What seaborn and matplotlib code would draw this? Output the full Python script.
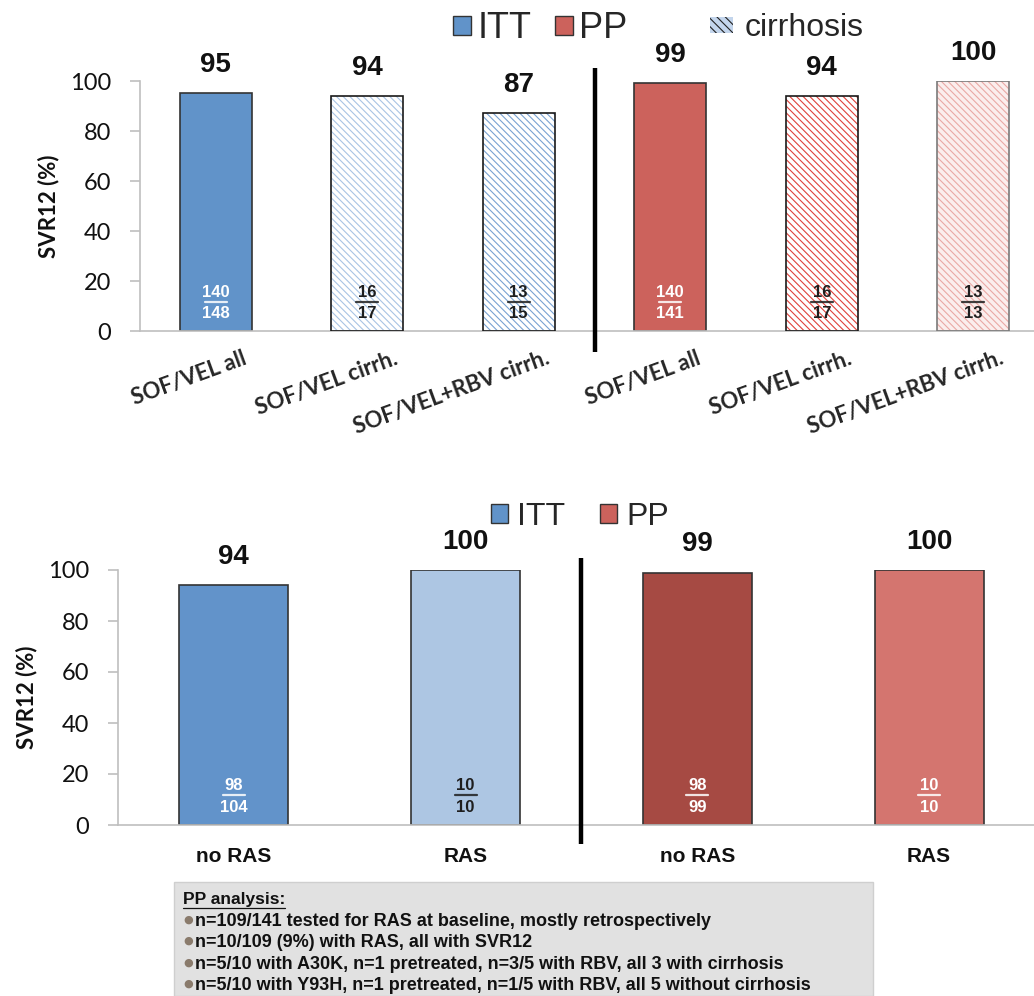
import numpy as np
import pandas as pd
import matplotlib
matplotlib.use("Agg")
import matplotlib.pyplot as plt
import matplotlib.transforms as mtransforms
from matplotlib.patches import Patch, Rectangle
from matplotlib.lines import Line2D
import seaborn as sns

# ---- data: upper panel (SVR12 by regimen) ----
top_keys = ["ITT all", "ITT cirrh", "ITT RBV cirrh", "PP all", "PP cirrh", "PP RBV cirrh"]
top_labels = ["SOF/VEL all", "SOF/VEL cirrh.", "SOF/VEL+RBV cirrh.",
              "SOF/VEL all", "SOF/VEL cirrh.", "SOF/VEL+RBV cirrh."]
top_svr = [95, 94, 87, 99, 94, 100]
top_num = [140, 16, 13, 140, 16, 13]
top_den = [148, 17, 15, 141, 17, 13]

# ---- data: lower panel (SVR12 by baseline RAS) ----
bottom_keys = ["ITT no RAS", "ITT RAS", "PP no RAS", "PP RAS"]
bottom_labels = ["no RAS", "RAS", "no RAS", "RAS"]
bottom_svr = [94, 100, 99, 100]
bottom_num = [98, 10, 98, 10]
bottom_den = [104, 10, 99, 10]

notes_title = "PP analysis:"
notes = [
    "n=109/141 tested for RAS at baseline, mostly retrospectively",
    "n=10/109 (9%) with RAS, all with SVR12",
    "n=5/10 with A30K, n=1 pretreated, n=3/5 with RBV, all 3 with cirrhosis",
    "n=5/10 with Y93H, n=1 pretreated, n=1/5 with RBV, all 5 without cirrhosis",
]

# ---- styles ----
ITT_BLUE = "#6193c9"
PP_RED = "#cc625c"
top_colors = [ITT_BLUE, "#ffffff", "#ffffff", PP_RED, "#ffffff", "#fbeeed"]
top_hatch = [None, "#a9c4e4", "#7aa2d2", None, "#e0413b", "#eaa9a5"]
top_edges = ["#333333", "#1a1a1a", "#1a1a1a", "#333333", "#1a1a1a", "#7a7a7a"]
top_frac = ["white", "#1e1e1e", "#1e1e1e", "white", "#1e1e1e", "#1e1e1e"]

bottom_colors = ["#6293ca", "#adc6e3", "#a64a43", "#d4756f"]
bottom_hatch = [None] * 4
bottom_edges = ["#333333"] * 4
bottom_frac = ["white", "#1e1e1e", "white", "white"]

W, H = 1034, 996
CAL = ["Lato", "DejaVu Sans"]
ARIAL = ["Liberation Sans", "DejaVu Sans"]

sns.set_style("white")
plt.rcParams["font.family"] = ARIAL
plt.rcParams["hatch.linewidth"] = 0.8


def fig_rect(left, right, top, bottom):
    return [left / W, 1 - bottom / H, (right - left) / W, (bottom - top) / H]


def draw_panel(ax, keys, labels, svr, num, den, colors, hatches, edges, frac_colors,
               width, left_px, label_x_px, divider_y):
    n = len(keys)
    df = pd.DataFrame({"group": keys, "svr": svr})
    sns.barplot(data=df, x="group", y="svr", hue="group", palette=colors,
                width=width, saturation=1, legend=False, ax=ax,
                edgecolor="#333333", linewidth=1.2, zorder=2)
    bars = list(ax.patches)[:n]

    ax.set_xlim(-0.5, n - 0.5)
    ax.set_ylim(0, 100)
    ax_w_px = ax.get_position().width * W
    half_line = 11 / (ax_w_px / n)

    for i, p in enumerate(bars):
        cx = p.get_x() + p.get_width() / 2
        if hatches[i] is not None:
            p.set_hatch("\\\\\\\\\\")
            p.set_edgecolor(hatches[i])
            p.set_linewidth(0)
            ax.add_patch(Rectangle((p.get_x(), p.get_y()), p.get_width(), p.get_height(),
                                   fill=False, edgecolor=edges[i], linewidth=1.2, zorder=3))
        else:
            p.set_edgecolor(edges[i])
        ax.annotate(f"{svr[i]}", (cx, p.get_height()), xytext=(0, 11),
                    textcoords="offset points", ha="center", va="bottom",
                    fontsize=20, fontweight="bold", color="#111111")
        # fraction inside the bar
        ax.text(cx, 15.5, f"{num[i]}", ha="center", va="center", fontsize=12,
                fontweight="bold", color=frac_colors[i], zorder=4)
        ax.text(cx, 7.0, f"{den[i]}", ha="center", va="center", fontsize=12,
                fontweight="bold", color=frac_colors[i], zorder=4)
        ax.plot([cx - half_line, cx + half_line], [11.6, 11.6], color=frac_colors[i],
                lw=1.6, zorder=4, alpha=0.85)

    # separator between ITT and PP groups
    ax.plot([n / 2 - 0.5] * 2, divider_y, color="black", lw=3.2, clip_on=False,
            solid_capstyle="butt", zorder=5)

    ax.set_yticks(range(0, 101, 20))
    ax.set_xticks(range(n))
    ax.set_xticklabels(labels)
    ax.set_xticks(np.arange(-0.5, n), minor=True)
    ax.tick_params(axis="x", which="major", length=0)
    ax.tick_params(axis="x", which="minor", length=6, color="#bfbfbf", width=1.2)
    ax.tick_params(axis="y", length=7, color="#bfbfbf", width=1.2, pad=14,
                   labelsize=17, labelcolor="#111111", left=True)
    for t in ax.get_yticklabels():
        t.set_family(CAL)
    for s in ["top", "right"]:
        ax.spines[s].set_visible(False)
    for s in ["left", "bottom"]:
        ax.spines[s].set_color("#bfbfbf")
        ax.spines[s].set_linewidth(1.2)
    ax.set_xlabel("")
    ax.set_ylabel("SVR12 (%)", fontsize=16, fontweight="bold", family=CAL, color="#111111")
    ax.yaxis.set_label_coords((label_x_px - left_px) / ax_w_px, 0.5)


fig = plt.figure(figsize=(W / 100, H / 100), dpi=100)
ax_top = fig.add_axes(fig_rect(140, 1049, 81, 331))
ax_bot = fig.add_axes(fig_rect(118, 1045, 570, 825))

draw_panel(ax_top, top_keys, top_labels, top_svr, top_num, top_den, top_colors,
           top_hatch, top_edges, top_frac, 0.475, 140, 59, [-8.4, 105.2])
draw_panel(ax_bot, bottom_keys, bottom_labels, bottom_svr, bottom_num, bottom_den,
           bottom_colors, bottom_hatch, bottom_edges, bottom_frac, 0.47, 118, 37, [-7.5, 104.7])

# upper x labels: rotated, Calibri-like
ax_top.tick_params(axis="x", which="major", pad=12)
shift = mtransforms.ScaledTranslation(26 / 100, 0, fig.dpi_scale_trans)
for t in ax_top.get_xticklabels():
    t.set_rotation(20)
    t.set_ha("right")
    t.set_rotation_mode("anchor")
    t.set_family(CAL)
    t.set_fontsize(16)
    t.set_fontweight("bold")
    t.set_transform(t.get_transform() + shift)

ax_bot.tick_params(axis="x", which="major", pad=16)
for t in ax_bot.get_xticklabels():
    t.set_fontsize(15)
    t.set_fontweight("bold")
    t.set_color("#111111")

# legends
h_itt = Patch(facecolor=ITT_BLUE, edgecolor="#333333", linewidth=1)
h_pp = Patch(facecolor=PP_RED, edgecolor="#333333", linewidth=1)
h_cir = Patch(facecolor="#c3d5ec", edgecolor="#222222", linewidth=0, hatch="\\\\\\\\")

fig.legend([h_itt, h_pp], ["ITT", "PP"], loc="center left",
           bbox_to_anchor=(453 / W, 1 - 29 / H), ncol=2, frameon=False, fontsize=26,
           handlelength=0.5, handleheight=0.45, handletextpad=0.17, columnspacing=0.66,
           borderpad=0, borderaxespad=0)
fig.legend([h_cir], ["cirrhosis"], loc="center left",
           bbox_to_anchor=(710 / W, 1 - 28 / H), frameon=False, fontsize=23,
           handlelength=0.72, handleheight=0.4, handletextpad=0.37,
           borderpad=0, borderaxespad=0)
fig.legend([h_itt, h_pp], ["ITT", "PP"], loc="center left",
           bbox_to_anchor=(491 / W, 1 - 517 / H), ncol=2, frameon=False, fontsize=23,
           handlelength=0.53, handleheight=0.53, handletextpad=0.28, columnspacing=1.1,
           borderpad=0, borderaxespad=0)

# notes box at the bottom
fig.add_artist(Rectangle((174 / W, 0), (873 - 174) / W, (996 - 882) / H,
                         transform=fig.transFigure, facecolor="#e1e1e1",
                         edgecolor="#cfcfcf", linewidth=1))
title = fig.text(183 / W, 1 - 899 / H, notes_title, fontsize=12.5, fontweight="bold",
                 va="center", ha="left", color="#111111")
for k, line in enumerate(notes):
    y = 1 - (921 + k * 21.5) / H
    fig.text(183 / W, y + 1.5 / H, "\u25cf", fontsize=8, color="#8a7b6c", va="center",
             ha="left", family=["DejaVu Sans"])
    fig.text(195 / W, y, line, fontsize=13, fontweight="bold",
             va="center", ha="left", color="#111111")

fig.canvas.draw()
bb = title.get_window_extent()
fig.add_artist(Line2D([bb.x0 / W, bb.x1 / W], [(bb.y0 - 1) / H] * 2,
                      transform=fig.transFigure, color="#111111", lw=0.9))

fig.savefig("out.png", dpi=100)
